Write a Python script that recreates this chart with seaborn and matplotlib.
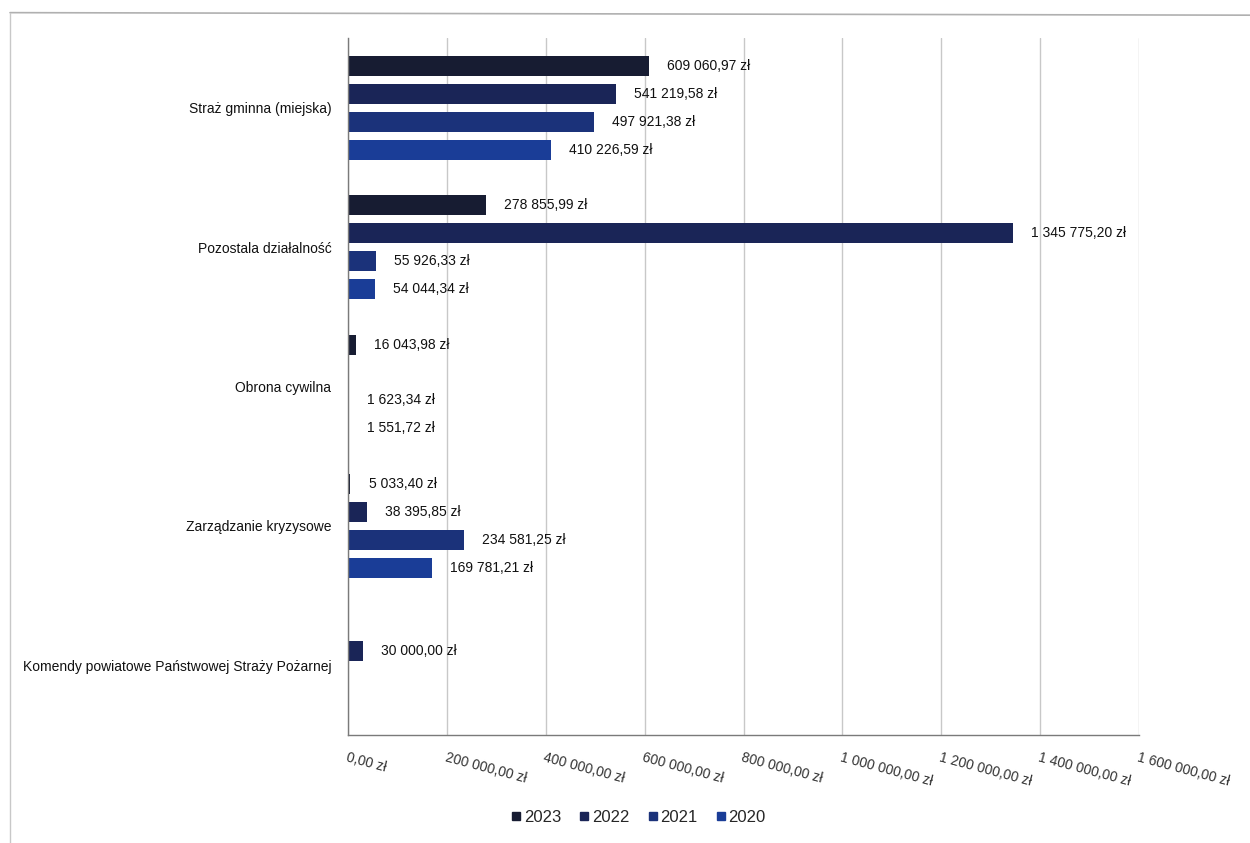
import pandas as pd
import numpy as np
import seaborn as sns
import matplotlib.pyplot as plt
from matplotlib.lines import Line2D

categories = ['Straż gminna (miejska)', 'Pozostala działalność', 'Obrona cywilna',
              'Zarządzanie kryzysowe', 'Komendy powiatowe Państwowej Straży Pożarnej']
years = ['2023', '2022', '2021', '2020']
v2023 = [609060.97, 278855.99, 16043.98, 5033.40, np.nan]
v2022 = [541219.58, 1345775.20, np.nan, 38395.85, 30000.00]
v2021 = [497921.38, 55926.33, 1623.34, 234581.25, np.nan]
v2020 = [410226.59, 54044.34, 1551.72, 169781.21, np.nan]
colors = ['#171c32', '#1a2557', '#1b327a', '#1a3d97']
xticks = [0, 200000, 400000, 600000, 800000, 1000000, 1200000, 1400000, 1600000]


def pln(v):
    return f"{v:,.2f}".replace(",", " ").replace(".", ",") + " zł"


rows = []
for year, vals in zip(years, [v2023, v2022, v2021, v2020]):
    for cat, v in zip(categories, vals):
        rows.append({'kategoria': cat, 'rok': year, 'kwota': v})
df = pd.DataFrame(rows).dropna()

sns.set_style('white')
plt.rcParams['font.family'] = ['Liberation Sans', 'DejaVu Sans']

fig = plt.figure(figsize=(12.5, 8.43), dpi=100)
ax = fig.add_axes([0.2784, 0.1281, 0.6328, 0.8268])

sns.barplot(data=df, y='kategoria', x='kwota', hue='rok', order=categories,
            hue_order=years, palette=colors, orient='h', gap=0.28,
            saturation=1, errorbar=None, legend=False, linewidth=0, ax=ax)

for cont in ax.containers:
    labels = [pln(b.get_width()) for b in cont]
    ax.bar_label(cont, labels=labels, padding=13, fontsize=10, color='#111111')

ax.set_xlim(0, 1600000)
ax.set_xticks(xticks)
ax.set_xticklabels([pln(t) for t in xticks], rotation=-15, ha='left', va='top',
                   rotation_mode='anchor', fontsize=10, color='#333333')
ax.tick_params(axis='x', length=5, color='#888888', pad=6)
ax.tick_params(axis='y', length=0, pad=12, labelsize=10, labelcolor='#111111')
ax.xaxis.grid(True, color='#c8c8c8', linewidth=1)
ax.set_axisbelow(True)
ax.set_xlabel('')
ax.set_ylabel('')
for s in ['top', 'right']:
    ax.spines[s].set_visible(False)
for s in ['left', 'bottom']:
    ax.spines[s].set_color('#7a7a7a')
    ax.spines[s].set_linewidth(1)

handles = [Line2D([], [], marker='s', linestyle='', markersize=6, color=c) for c in colors]
fig.legend(handles, years, loc='center', bbox_to_anchor=(0.51, 0.03), ncol=4,
           frameon=False, fontsize=12, handletextpad=0.05, columnspacing=1.0,
           handlelength=0.8)

# ramka ze skanu
fig.add_artist(Line2D([0.008, 1.0], [0.985, 0.982], color='#b0b0b0', linewidth=1.2))
fig.add_artist(Line2D([0.008, 0.008], [0.985, 0.0], color='#c8c8c8', linewidth=1))

fig.savefig('out.png', dpi=100)
